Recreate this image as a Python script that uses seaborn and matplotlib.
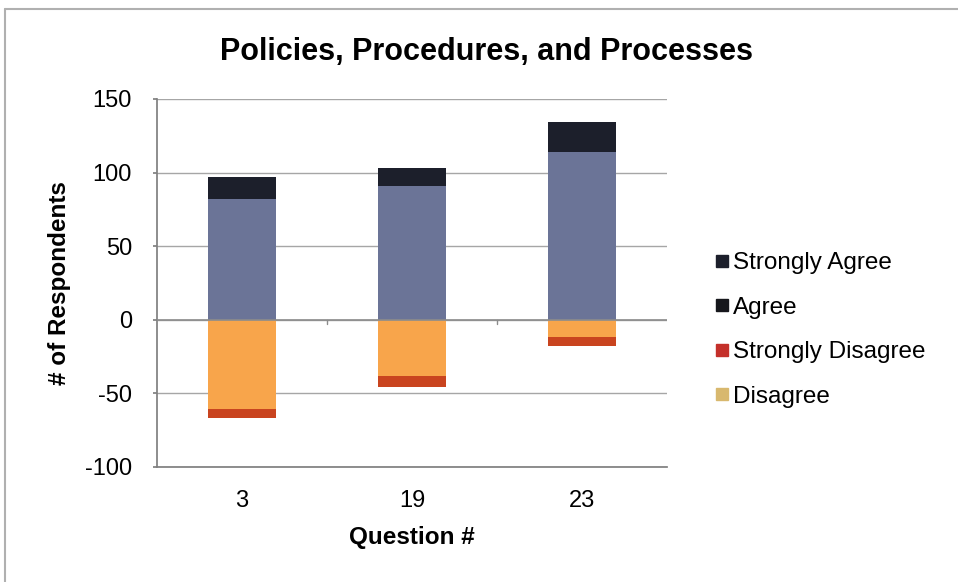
import matplotlib
matplotlib.use("Agg")
import matplotlib.pyplot as plt
from matplotlib.lines import Line2D
import seaborn as sns
import pandas as pd

# values
questions = ["3", "19", "23"]
agree = [82, 91, 114]
strongly_agree = [15, 12, 20]
disagree = [-61, -38, -12]
strongly_disagree = [-6, -8, -6]

legend_labels = ["Strongly Agree", "Agree", "Strongly Disagree", "Disagree"]

sns.set_theme(style="white")
plt.rcParams['font.family'] = ['Liberation Sans', 'DejaVu Sans']
plt.rcParams['axes.unicode_minus'] = False
plt.rcParams['text.color'] = 'black'
plt.rcParams['axes.labelcolor'] = 'black'
plt.rcParams['xtick.color'] = 'black'
plt.rcParams['ytick.color'] = 'black'

df = pd.DataFrame({
    "question": questions,
    "agree": agree,
    "pos_total": [a + s for a, s in zip(agree, strongly_agree)],
    "disagree": disagree,
    "neg_total": [d + s for d, s in zip(disagree, strongly_disagree)],
})

fig = plt.figure(figsize=(9.58, 5.82), dpi=100)
ax = fig.add_axes([0.164, 0.198, 0.532, 0.632])

c_sa = "#1c1f2b"
c_a = "#6b7497"
c_sd = "#c9441f"
c_d = "#f8a54b"

ax.set_axisbelow(True)
ax.grid(axis="y", color="#a6a6a6", linewidth=1)

kw = dict(x="question", order=questions, width=0.4, saturation=1, ax=ax,
          linewidth=0, edgecolor="none")
sns.barplot(data=df, y="pos_total", color=c_sa, **kw)
sns.barplot(data=df, y="agree", color=c_a, **kw)
sns.barplot(data=df, y="neg_total", color=c_sd, **kw)
sns.barplot(data=df, y="disagree", color=c_d, **kw)

ax.axhline(0, color="#8c8c8c", linewidth=1.2, zorder=3)
# category tick marks on the zero line
for xb in [0.5, 1.5]:
    ax.plot([xb, xb], [0, -3], color="#8c8c8c", linewidth=1, zorder=3)

ax.set_ylim(-100, 150)
ax.set_xlim(-0.5, 2.5)
ax.set_yticks([-100, -50, 0, 50, 100, 150])
ax.tick_params(axis="y", labelsize=17, length=3, left=True, color="#808080", pad=15)
ax.tick_params(axis="x", labelsize=17, length=0, pad=17)

for s in ["top", "right"]:
    ax.spines[s].set_visible(False)
ax.spines["left"].set_color("#808080")
ax.spines["bottom"].set_color("#808080")

# title is centred on the whole chart, not the plot area
ax.set_title("Policies, Procedures, and Processes", fontsize=22, fontweight="bold",
             pad=28, x=0.647)
ax.set_ylabel("# of Respondents", fontsize=17.5, fontweight="bold", labelpad=10)
ax.set_xlabel("Question #", fontsize=17.5, fontweight="bold", labelpad=10)

handles = [Line2D([], [], marker="s", linestyle="", markersize=8, color=c)
           for c in [c_sa, "#16171c", "#c4302a", "#d8b86e"]]
fig.legend(handles, legend_labels, loc="center left", bbox_to_anchor=(0.735, 0.433),
           frameon=False, fontsize=17.5, handletextpad=0.1, labelspacing=0.92,
           handlelength=0.7, borderaxespad=0)

# outer chart frame (top and left edges visible)
fig.add_artist(Line2D([0.005, 1.0], [0.985, 0.985], color="#b0b0b0", linewidth=1.5))
fig.add_artist(Line2D([0.005, 0.005], [0.0, 0.985], color="#b0b0b0", linewidth=1.5))

fig.savefig("out.png", dpi=100)
